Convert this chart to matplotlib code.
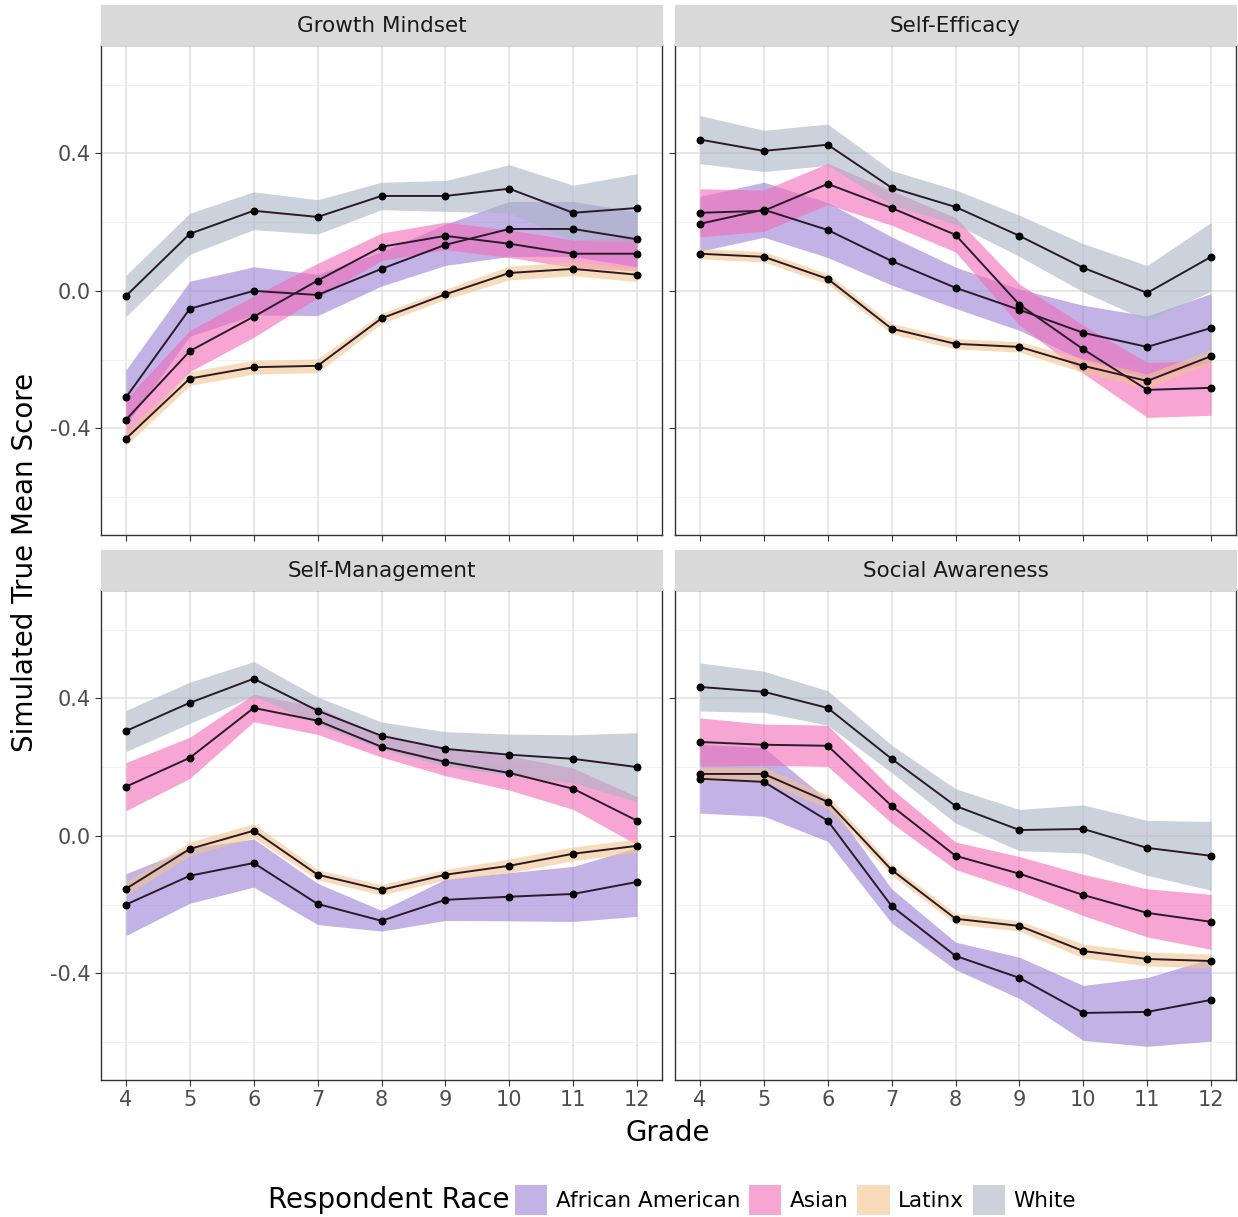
import matplotlib
matplotlib.use("Agg")
import matplotlib.pyplot as plt
from matplotlib.patches import Patch
import numpy as np

grades = [4, 5, 6, 7, 8, 9, 10, 11, 12]
races = ["African American", "Asian", "Latinx", "White"]
colors = {"African American": "#9a7fd6", "Asian": "#f26bb8", "Latinx": "#f3c48e", "White": "#aab4c6"}
panels = ["Growth Mindset", "Self-Efficacy", "Self-Management", "Social Awareness"]

means = {
    "Growth Mindset": {
        "African American": [-0.31, -0.052, 0.0, -0.012, 0.064, 0.134, 0.18, 0.18, 0.15],
        "Asian": [-0.375, -0.175, -0.075, 0.03, 0.128, 0.16, 0.137, 0.108, 0.108],
        "Latinx": [-0.43, -0.255, -0.222, -0.218, -0.08, -0.01, 0.052, 0.064, 0.047],
        "White": [-0.015, 0.166, 0.233, 0.215, 0.276, 0.276, 0.297, 0.227, 0.241],
    },
    "Self-Efficacy": {
        "African American": [0.195, 0.236, 0.177, 0.087, 0.009, -0.055, -0.122, -0.163, -0.108],
        "Asian": [0.227, 0.233, 0.311, 0.241, 0.163, -0.04, -0.17, -0.288, -0.282],
        "Latinx": [0.108, 0.099, 0.035, -0.11, -0.154, -0.163, -0.218, -0.262, -0.19],
        "White": [0.44, 0.407, 0.425, 0.30, 0.244, 0.16, 0.067, -0.006, 0.099],
    },
    "Self-Management": {
        "African American": [-0.2, -0.116, -0.079, -0.198, -0.247, -0.186, -0.177, -0.169, -0.134],
        "Asian": [0.143, 0.227, 0.372, 0.335, 0.259, 0.215, 0.183, 0.137, 0.044],
        "Latinx": [-0.154, -0.038, 0.015, -0.113, -0.157, -0.113, -0.087, -0.052, -0.029],
        "White": [0.305, 0.387, 0.457, 0.364, 0.291, 0.253, 0.236, 0.224, 0.2],
    },
    "Social Awareness": {
        "African American": [0.166, 0.157, 0.044, -0.204, -0.349, -0.413, -0.515, -0.512, -0.477],
        "Asian": [0.273, 0.265, 0.262, 0.087, -0.058, -0.11, -0.172, -0.224, -0.25],
        "Latinx": [0.18, 0.18, 0.099, -0.099, -0.241, -0.262, -0.335, -0.358, -0.364],
        "White": [0.433, 0.419, 0.372, 0.224, 0.087, 0.017, 0.02, -0.035, -0.058],
    },
}

halfwidth = {
    "Growth Mindset": {
        "African American": [0.08, 0.08, 0.07, 0.06, 0.05, 0.06, 0.08, 0.08, 0.08],
        "Asian": [0.06, 0.06, 0.06, 0.05, 0.04, 0.04, 0.04, 0.04, 0.05],
        "Latinx": [0.02, 0.02, 0.02, 0.02, 0.015, 0.015, 0.02, 0.02, 0.02],
        "White": [0.06, 0.06, 0.055, 0.05, 0.04, 0.045, 0.07, 0.08, 0.1],
    },
    "Self-Efficacy": {
        "African American": [0.08, 0.08, 0.08, 0.07, 0.06, 0.06, 0.08, 0.09, 0.1],
        "Asian": [0.07, 0.06, 0.06, 0.05, 0.05, 0.06, 0.07, 0.08, 0.08],
        "Latinx": [0.015, 0.015, 0.015, 0.015, 0.015, 0.015, 0.02, 0.02, 0.02],
        "White": [0.07, 0.06, 0.06, 0.05, 0.05, 0.06, 0.07, 0.08, 0.1],
    },
    "Self-Management": {
        "African American": [0.09, 0.08, 0.07, 0.06, 0.03, 0.06, 0.07, 0.08, 0.1],
        "Asian": [0.07, 0.06, 0.04, 0.04, 0.03, 0.04, 0.05, 0.06, 0.07],
        "Latinx": [0.02, 0.02, 0.02, 0.015, 0.015, 0.015, 0.02, 0.02, 0.02],
        "White": [0.06, 0.06, 0.05, 0.04, 0.04, 0.05, 0.06, 0.07, 0.1],
    },
    "Social Awareness": {
        "African American": [0.1, 0.1, 0.06, 0.05, 0.04, 0.06, 0.08, 0.1, 0.12],
        "Asian": [0.07, 0.06, 0.06, 0.05, 0.04, 0.05, 0.06, 0.07, 0.08],
        "Latinx": [0.02, 0.02, 0.02, 0.015, 0.015, 0.015, 0.02, 0.02, 0.02],
        "White": [0.07, 0.06, 0.05, 0.04, 0.05, 0.06, 0.07, 0.08, 0.1],
    },
}

W, H = 1238, 1217
fig = plt.figure(figsize=(W / 100, H / 100), dpi=100)

boxes = {
    "Growth Mindset": (101, 45, 662, 535),
    "Self-Efficacy": (675, 45, 1236, 535),
    "Self-Management": (101, 590, 662, 1080),
    "Social Awareness": (675, 590, 1236, 1080),
}
strip_h = 40

for name in panels:
    x0, y0, x1, y1 = boxes[name]
    ax = fig.add_axes([x0 / W, 1 - y1 / H, (x1 - x0) / W, (y1 - y0) / H])
    for r in races:
        m = np.array(means[name][r]); h = np.array(halfwidth[name][r])
        ax.fill_between(grades, m - h, m + h, color=colors[r], alpha=0.6, lw=0, zorder=2)
    for r in races:
        ax.plot(grades, means[name][r], color="#2a1a2a", lw=1.4, zorder=3)
        ax.scatter(grades, means[name][r], color="black", s=22, zorder=4)
    ax.set_xlim(3.61, 12.39)
    ax.set_ylim(-0.71, 0.715)
    ax.set_xticks(grades)
    ax.set_yticks([-0.4, 0.0, 0.4])
    ax.set_yticks([-0.6, -0.2, 0.2, 0.6], minor=True)
    ax.grid(True, which="major", color="#e0e0e0", lw=1.1, zorder=0)
    ax.grid(True, which="minor", axis="y", color="#f0f0f0", lw=0.6, zorder=0)
    ax.set_axisbelow(True)
    for s in ax.spines.values():
        s.set_color("#333333"); s.set_linewidth(1.0)
    ax.tick_params(colors="#333333", labelsize=15, length=4, labelcolor="#4d4d4d", which="major")
    ax.tick_params(which="minor", length=0)
    if x0 > 300:
        ax.set_yticklabels([])
    else:
        ax.set_yticklabels(["-0.4", "0.0", "0.4"])
    if y0 < 300:
        ax.set_xticklabels([])
    sax = fig.add_axes([x0 / W, 1 - y0 / H, (x1 - x0) / W, strip_h / H])
    sax.set_xticks([]); sax.set_yticks([])
    sax.set_facecolor("#d9d9d9")
    for s in sax.spines.values():
        s.set_color("#d9d9d9")
    sax.text(0.5, 0.47, name, ha="center", va="center", fontsize=15.5, color="#1a1a1a", transform=sax.transAxes)

fig.text(25 / W, 1 - 562 / H, "Simulated True Mean Score", rotation=90, ha="center", va="center", fontsize=20)
fig.text(668 / W, 1 - 1133 / H, "Grade", ha="center", va="center", fontsize=20)
fig.text(268 / W, 1 - 1200 / H, "Respondent Race", ha="left", va="center", fontsize=20)
handles = [Patch(facecolor=colors[r], alpha=0.6, edgecolor="none", label=r) for r in races]
fig.legend(handles=handles, loc="center left", bbox_to_anchor=(515 / W, 1 - 1200 / H), ncol=4,
           frameon=False, fontsize=15.5, handlelength=1.5, handleheight=1.7, handletextpad=0.4,
           columnspacing=0.4, borderaxespad=0, borderpad=0)

fig.savefig("out.png", dpi=100)
